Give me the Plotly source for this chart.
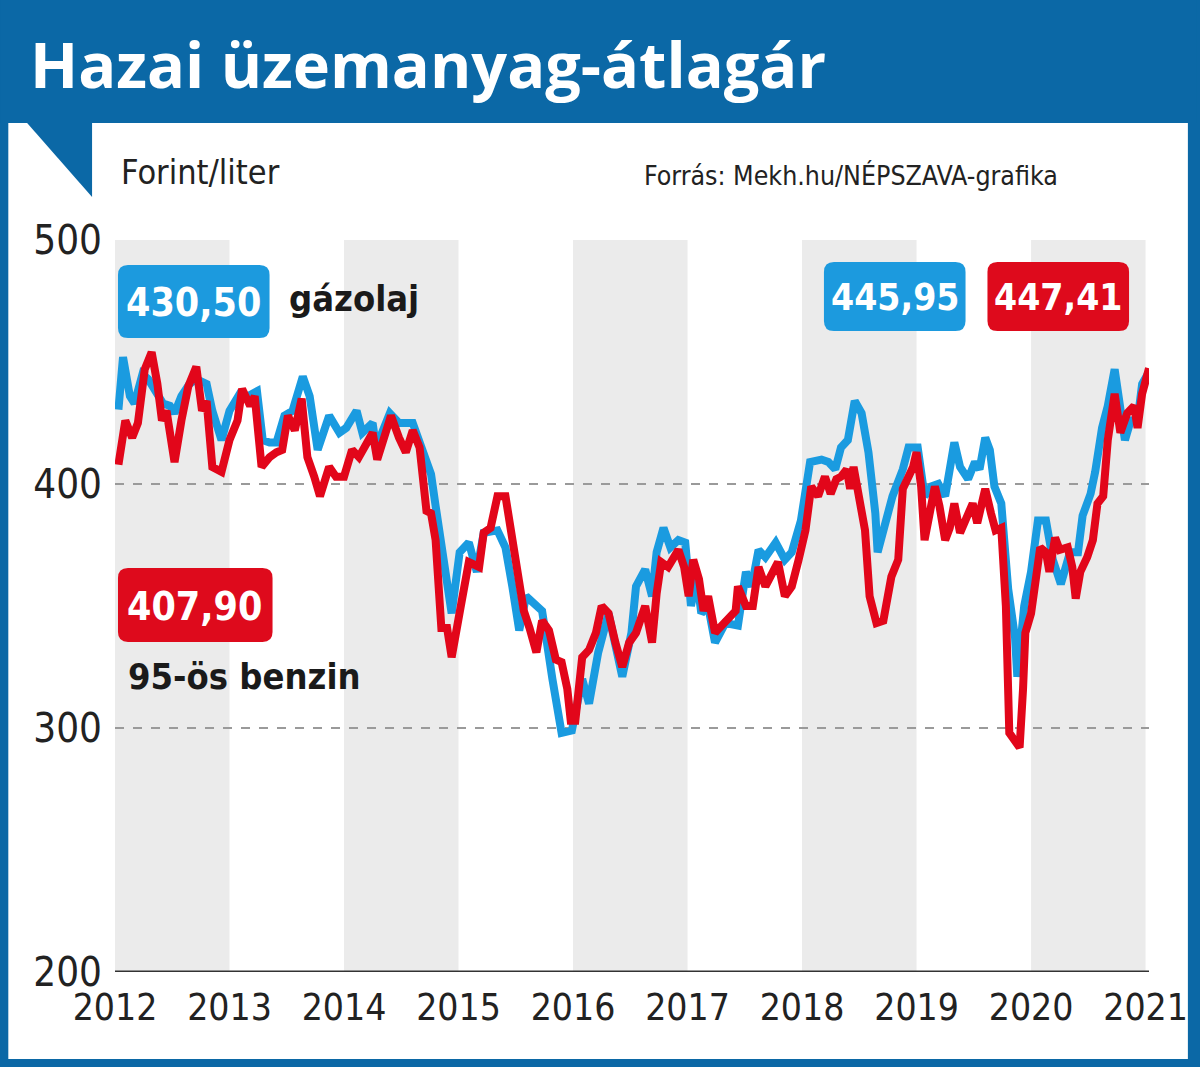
import plotly.graph_objects as go

# ---------------- data ----------------
years = [2012, 2013, 2014, 2015, 2016, 2017, 2018, 2019, 2020, 2021]
y_ticks = [200, 300, 400, 500]

diesel_x = [2012.03, 2012.07, 2012.13, 2012.17, 2012.24, 2012.29, 2012.42, 2012.48, 2012.52, 2012.58,
            2012.65, 2012.71, 2012.80, 2012.85, 2012.93, 2013.00, 2013.09, 2013.16, 2013.24, 2013.29,
            2013.35, 2013.41, 2013.48, 2013.55, 2013.64, 2013.70, 2013.77, 2013.87, 2013.96, 2014.02,
            2014.11, 2014.16, 2014.25, 2014.28, 2014.40, 2014.48, 2014.60, 2014.68, 2014.76, 2014.80,
            2014.85, 2014.90, 2014.94, 2015.01, 2015.09, 2015.16, 2015.22, 2015.34, 2015.41, 2015.47,
            2015.53, 2015.59, 2015.73, 2015.82, 2015.90, 2015.99, 2016.08, 2016.14, 2016.22, 2016.31,
            2016.43, 2016.51, 2016.55, 2016.63, 2016.69, 2016.73, 2016.79, 2016.85, 2016.92, 2016.98,
            2017.03, 2017.08, 2017.12, 2017.18, 2017.24, 2017.33, 2017.44, 2017.51, 2017.56, 2017.62,
            2017.68, 2017.77, 2017.85, 2017.91, 2017.99, 2018.07, 2018.17, 2018.23, 2018.29, 2018.34,
            2018.40, 2018.46, 2018.52, 2018.58, 2018.64, 2018.66, 2018.72, 2018.79, 2018.88, 2018.93,
            2019.01, 2019.07, 2019.13, 2019.19, 2019.25, 2019.33, 2019.38, 2019.45, 2019.51, 2019.55,
            2019.60, 2019.64, 2019.68, 2019.74, 2019.80, 2019.86, 2019.88, 2019.94, 2020.00, 2020.06,
            2020.13, 2020.19, 2020.26, 2020.34, 2020.41, 2020.45, 2020.52, 2020.56, 2020.62, 2020.67,
            2020.73, 2020.77, 2020.82, 2020.87, 2020.93, 2020.97, 2021.03]
diesel_y = [430.5, 452, 436, 433, 445, 443, 433, 432, 429, 436,
            441, 443, 441, 430, 418, 430, 437, 436, 438, 418,
            417, 417, 428, 430, 444, 436, 414, 428, 421, 423,
            430, 421, 425, 415, 429, 425, 425, 415, 404, 391,
            374, 362, 347, 372, 376, 364, 380, 381, 374, 358,
            340, 354, 348, 320, 298, 299, 320, 310, 331, 347,
            321, 339, 358, 365, 354, 372, 382, 374, 377, 376,
            350, 362, 347, 350, 335, 343, 342, 364, 358, 373,
            370, 376, 369, 372, 385, 409, 410, 409, 406, 415,
            418, 434, 429, 413, 388, 372, 384, 395, 406, 415,
            415, 395, 399, 400, 395, 417, 407, 402, 409, 406,
            419, 414, 399, 392, 357, 337, 321, 350, 364, 385,
            385, 369, 359, 372, 372, 387, 396, 405, 423, 432,
            447, 432, 418, 426, 426, 441, 445.95]

petrol_x = [2012.03, 2012.09, 2012.15, 2012.20, 2012.26, 2012.32, 2012.37, 2012.41, 2012.45, 2012.52,
            2012.58, 2012.64, 2012.71, 2012.76, 2012.80, 2012.85, 2012.93, 2013.00, 2013.07, 2013.11,
            2013.18, 2013.22, 2013.28, 2013.35, 2013.41, 2013.46, 2013.51, 2013.57, 2013.63, 2013.68,
            2013.74, 2013.79, 2013.87, 2013.93, 2014.00, 2014.07, 2014.13, 2014.20, 2014.25, 2014.29,
            2014.33, 2014.41, 2014.48, 2014.54, 2014.60, 2014.66, 2014.72, 2014.76, 2014.80, 2014.85,
            2014.90, 2014.94, 2015.02, 2015.09, 2015.18, 2015.22, 2015.28, 2015.34, 2015.41, 2015.47,
            2015.53, 2015.57, 2015.62, 2015.68, 2015.73, 2015.79, 2015.85, 2015.90, 2015.95, 2015.98,
            2016.02, 2016.08, 2016.14, 2016.20, 2016.25, 2016.31, 2016.37, 2016.43, 2016.49, 2016.55,
            2016.63, 2016.69, 2016.73, 2016.77, 2016.83, 2016.92, 2016.97, 2017.01, 2017.05, 2017.10,
            2017.14, 2017.18, 2017.24, 2017.33, 2017.42, 2017.44, 2017.51, 2017.57, 2017.62, 2017.68,
            2017.73, 2017.79, 2017.85, 2017.91, 2017.97, 2018.03, 2018.08, 2018.14, 2018.20, 2018.25,
            2018.30, 2018.34, 2018.39, 2018.42, 2018.45, 2018.51, 2018.55, 2018.59, 2018.65, 2018.71,
            2018.78, 2018.84, 2018.88, 2018.93, 2018.97, 2019.00, 2019.04, 2019.07, 2019.12, 2019.16,
            2019.20, 2019.25, 2019.29, 2019.33, 2019.38, 2019.43, 2019.49, 2019.53, 2019.60, 2019.65,
            2019.69, 2019.74, 2019.78, 2019.81, 2019.86, 2019.90, 2019.93, 2019.95, 2020.00, 2020.06,
            2020.08, 2020.13, 2020.16, 2020.21, 2020.25, 2020.32, 2020.36, 2020.39, 2020.43, 2020.49,
            2020.54, 2020.58, 2020.63, 2020.67, 2020.73, 2020.78, 2020.84, 2020.90, 2020.93, 2020.97,
            2021.03]
petrol_y = [407.9, 426, 419, 425, 447, 454, 441, 426, 430, 409,
            426, 440, 448, 430, 434, 407, 405, 418, 426, 439,
            432, 436, 407, 411, 413, 414, 428, 422, 435, 411,
            403, 395, 407, 403, 403, 414, 411, 417, 421, 410,
            417, 428, 419, 413, 422, 415, 389, 388, 377, 341,
            341, 329, 350, 368, 366, 380, 382, 395, 395, 377,
            355, 348, 341, 331, 344, 340, 328, 327, 316, 303,
            303, 329, 332, 339, 350, 347, 335, 325, 335, 339,
            350, 335, 355, 368, 366, 373, 366, 354, 369, 361,
            348, 354, 339, 344, 348, 358, 350, 350, 366, 358,
            362, 368, 354, 358, 369, 381, 399, 395, 403, 396,
            402, 403, 406, 398, 407, 393, 381, 354, 343, 344,
            362, 369, 398, 403, 407, 413, 399, 377, 391, 399,
            391, 377, 382, 392, 380, 385, 392, 384, 398, 388,
            381, 382, 350, 298, 294, 292, 316, 339, 347, 366,
            374, 372, 364, 378, 373, 374, 366, 353, 364, 370,
            377, 392, 395, 418, 437, 421, 429, 432, 423, 437,
            447.41]

# ---------------- geometry helpers ----------------
W, H = 1200, 1067
PL, PR, PT, PB = 115, 1152, 240, 972   # plot-area pixel bounds


def fx(x):
    return (x - PL) / (PR - PL)


def fy(y):
    return (PB - y) / (PB - PT)


def rrect(x0, y0, x1, y1, r):
    pts = [("M", x0 + r, y0), ("L", x1 - r, y0), ("Q", x1, y0, x1, y0 + r), ("L", x1, y1 - r),
           ("Q", x1, y1, x1 - r, y1), ("L", x0 + r, y1), ("Q", x0, y1, x0, y1 - r),
           ("L", x0, y0 + r), ("Q", x0, y0, x0 + r, y0)]
    s = ""
    for p in pts:
        nums = p[1:]
        coords = [f"{fx(nums[i]):.5f},{fy(nums[i+1]):.5f}" for i in range(0, len(nums), 2)]
        s += p[0] + " " + " ".join(coords) + " "
    return s + "Z"


BLUE_FRAME = "#0b68a6"
BLUE_LINE = "#1a9be0"
RED_LINE = "#e2061a"
BLUE_BOX = "#1c9ade"
RED_BOX = "#de0a1c"
NARROW = "DejaVu Sans Condensed, Roboto Condensed, Roboto, sans-serif"

fig = go.Figure()

fig.add_trace(go.Scatter(x=diesel_x, y=diesel_y, mode="lines",
                         line=dict(color=BLUE_LINE, width=8), hoverinfo="skip"))
fig.add_trace(go.Scatter(x=petrol_x, y=petrol_y, mode="lines",
                         line=dict(color=RED_LINE, width=8), hoverinfo="skip"))

shapes = []
shapes.append(dict(type="rect", xref="paper", yref="paper", x0=fx(8), x1=fx(1191), y0=fy(123), y1=fy(1059),
                   fillcolor="white", line_width=0, layer="below"))
shapes.append(dict(type="rect", xref="paper", yref="paper", x0=fx(0), x1=fx(1200), y0=fy(0), y1=fy(123),
                   fillcolor=BLUE_FRAME, line_width=0, layer="below"))
shapes.append(dict(type="path", xref="paper", yref="paper",
                   path=f"M {fx(26)},{fy(122)} L {fx(92)},{fy(122)} L {fx(92)},{fy(197)} Z",
                   fillcolor=BLUE_FRAME, line_width=0, layer="below"))
for i, yr in enumerate(years[:-1]):
    if i % 2 == 0:
        shapes.append(dict(type="rect", xref="x", yref="y", x0=yr, x1=yr + 1, y0=200, y1=500,
                           fillcolor="#ebebeb", line_width=0, layer="below"))
shapes.append(dict(type="path", xref="paper", yref="paper", path=rrect(118, 265, 270, 338, 10),
                   fillcolor=BLUE_BOX, line_width=0))
shapes.append(dict(type="path", xref="paper", yref="paper", path=rrect(118, 568, 273, 642, 10),
                   fillcolor=RED_BOX, line_width=0))
shapes.append(dict(type="path", xref="paper", yref="paper", path=rrect(826, 262, 968, 331, 10),
                   fillcolor=BLUE_BOX, line_width=0))
shapes.append(dict(type="path", xref="paper", yref="paper", path=rrect(990, 262, 1132, 331, 10),
                   fillcolor=RED_BOX, line_width=0))

annotations = [
    dict(text="<b>Hazai üzemanyag-átlagár</b>", x=fx(28), y=fy(64), xref="paper", yref="paper",
         xanchor="left", yanchor="middle", showarrow=False,
         font=dict(family="Open Sans", size=63, color="white")),
    dict(text="Forint/liter", x=fx(119), y=fy(172), xref="paper", yref="paper",
         xanchor="left", yanchor="middle", showarrow=False,
         font=dict(family=NARROW, size=34, color="#222")),
    dict(text="Forrás: Mekh.hu/NÉPSZAVA-grafika", x=fx(644), y=fy(175), xref="paper", yref="paper",
         xanchor="left", yanchor="middle", showarrow=False,
         font=dict(family=NARROW, size=26.5, color="#222")),
    dict(text="<b>430,50</b>", x=fx(194), y=fy(302), xref="paper", yref="paper",
         xanchor="center", yanchor="middle", showarrow=False,
         font=dict(family=NARROW, size=39, color="white")),
    dict(text="<b>gázolaj</b>", x=fx(288), y=fy(298), xref="paper", yref="paper",
         xanchor="left", yanchor="middle", showarrow=False,
         font=dict(family=NARROW, size=36, color="#1a1a1a")),
    dict(text="<b>407,90</b>", x=fx(195), y=fy(606), xref="paper", yref="paper",
         xanchor="center", yanchor="middle", showarrow=False,
         font=dict(family=NARROW, size=39, color="white")),
    dict(text="<b>95-ös benzin</b>", x=fx(126), y=fy(676), xref="paper", yref="paper",
         xanchor="left", yanchor="middle", showarrow=False,
         font=dict(family=NARROW, size=36, color="#1a1a1a")),
    dict(text="<b>445,95</b>", x=fx(897), y=fy(297), xref="paper", yref="paper",
         xanchor="center", yanchor="middle", showarrow=False,
         font=dict(family=NARROW, size=37, color="white")),
    dict(text="<b>447,41</b>", x=fx(1061), y=fy(297), xref="paper", yref="paper",
         xanchor="center", yanchor="middle", showarrow=False,
         font=dict(family=NARROW, size=37, color="white")),
]

fig.update_layout(
    width=W, height=H,
    margin=dict(l=PL, r=W - PR, t=PT, b=H - PB, pad=0),
    paper_bgcolor=BLUE_FRAME,
    plot_bgcolor="rgba(0,0,0,0)",
    showlegend=False,
    shapes=shapes,
    annotations=annotations,
    xaxis=dict(range=[2012, 2021.03], tickvals=years, ticktext=[str(y) for y in years],
               showgrid=False, zeroline=False, showline=False, ticks="",
               ticklabelstandoff=10,
               tickfont=dict(family=NARROW, size=37, color="#222"), fixedrange=True),
    yaxis=dict(range=[200, 500], tickvals=y_ticks, ticktext=[str(v) for v in y_ticks],
               showgrid=True, gridcolor="#9a9a9a", griddash="dash", gridwidth=1.5,
               zeroline=False, showline=False, ticks="",
               ticklabelstandoff=12,
               tickfont=dict(family=NARROW, size=40, color="#222"), fixedrange=True),
)
fig.add_shape(type="line", xref="x", yref="y", x0=2012, x1=2021.03, y0=200, y1=200,
              line=dict(color="#333", width=3))

fig.write_html("out.html")
